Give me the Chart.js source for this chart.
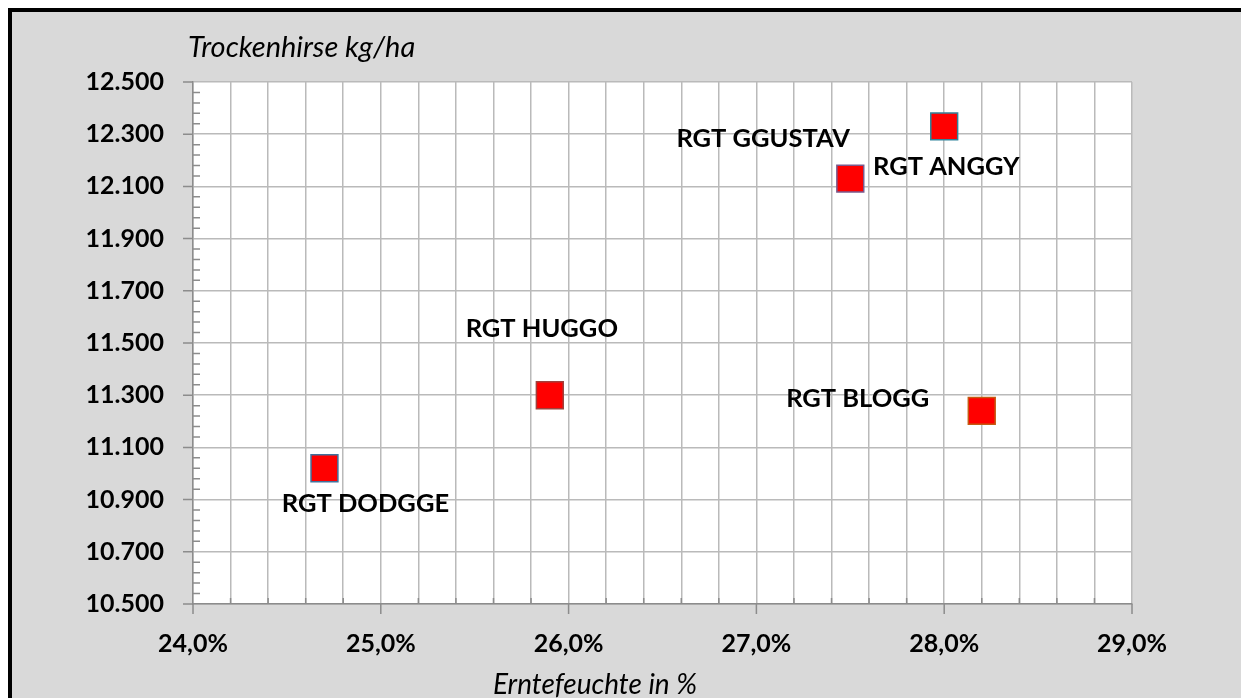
<!DOCTYPE html>
<html>
<head>
<meta charset="utf-8">
<script src="https://cdn.jsdelivr.net/npm/chart.js@4.4.1/dist/chart.umd.min.js"></script>
<style>
html, body { margin: 0; background: #fff; overflow: hidden; }
#frame {
  position: absolute; left: 8px; top: 8px;
  width: 1300px; height: 720px;
  border-left: 4px solid #000; border-top: 4px solid #000;
  background: #d9d9d9;
}
#box { position: relative; width: 1229px; height: 686px; }
</style>
</head>
<body>
<div id="frame"><div id="box"><canvas id="myChart"></canvas></div></div>
<script>
// data
var varieties = ["RGT DODGGE", "RGT HUGGO", "RGT ANGGY", "RGT GGUSTAV", "RGT BLOGG"];
var moisture = [24.7, 25.9, 27.5, 28.0, 28.2];       // Erntefeuchte in %
var yieldKg = [11020, 11300, 12130, 12330, 11240];   // Trockenhirse kg/ha
var xTickLabels = ["24,0%", "25,0%", "26,0%", "27,0%", "28,0%", "29,0%"];
var yTickLabels = ["10.500", "10.700", "10.900", "11.100", "11.300", "11.500",
                   "11.700", "11.900", "12.100", "12.300", "12.500"];

// styling
var markerBorders = ["#41719c", "#a0403c", "#7a5a8c", "#31849b", "#c55a11"];
var labelOffsets = [[41, 36], [-8, -66], [96, -12], [-181, 12], [-124, -12]];
var FONT = "Lato, 'Open Sans', sans-serif";

var points = [];
for (var i = 0; i < moisture.length; i++) {
  points.push({ x: moisture[i], y: yieldKg[i] });
}

var decor = {
  id: 'decor',
  beforeDraw: function(chart) {
    var a = chart.chartArea, ctx = chart.ctx;
    ctx.save();
    ctx.fillStyle = "#ffffff";
    ctx.fillRect(a.left, a.top, a.right - a.left, a.bottom - a.top);
    ctx.restore();
  },
  beforeDatasetsDraw: function(chart) {
    var a = chart.chartArea, ctx = chart.ctx;
    var xs = chart.scales.x, ys = chart.scales.y;
    ctx.save();
    ctx.strokeStyle = "#8c8c8c";
    ctx.lineWidth = 1.5;
    ctx.beginPath();
    // x axis: major outward ticks every 1 %, minor inward every 0.2 %
    for (var v = 0; v <= 25; v++) {
      var px = xs.getPixelForValue(24 + v * 0.2);
      if (v % 5 === 0) {
        ctx.moveTo(px, a.bottom); ctx.lineTo(px, a.bottom + 10);
      } else {
        ctx.moveTo(px, a.bottom); ctx.lineTo(px, a.bottom - 6);
      }
    }
    // y axis: major outward every 200, minor inward every 40
    for (var k = 0; k <= 50; k++) {
      var py = ys.getPixelForValue(10500 + k * 40);
      if (k % 5 === 0) {
        ctx.moveTo(a.left - 10, py); ctx.lineTo(a.left, py);
      } else {
        ctx.moveTo(a.left, py); ctx.lineTo(a.left + 7, py);
      }
    }
    ctx.stroke();
    ctx.restore();
  },
  afterDatasetsDraw: function(chart) {
    var ctx = chart.ctx, a = chart.chartArea;
    var meta = chart.getDatasetMeta(0);
    ctx.save();
    ctx.fillStyle = "#000";
    ctx.textAlign = "center";
    ctx.textBaseline = "middle";
    ctx.font = "bold 25.5px " + FONT;
    for (var i = 0; i < meta.data.length; i++) {
      var el = meta.data[i];
      ctx.fillText(varieties[i], el.x + labelOffsets[i][0], el.y + labelOffsets[i][1]);
    }
    // axis titles
    ctx.textAlign = "left";
    ctx.font = "italic 29px " + FONT;
    ctx.fillText("Trockenhirse kg/ha", a.left - 5, a.top - 34);
    ctx.textAlign = "center";
    ctx.font = "italic 28px " + FONT;
    ctx.fillText("Erntefeuchte in %", a.left + 402, a.bottom + 81);
    ctx.restore();
  }
};

var ctx = document.getElementById("myChart");
var myChart = new Chart(ctx, {
  type: 'scatter',
  data: {
    datasets: [{
      label: 'Sorten',
      data: points,
      pointStyle: 'rect',
      pointRadius: 19,
      pointHoverRadius: 19,
      backgroundColor: "#ff0000",
      pointBorderColor: markerBorders,
      borderWidth: 1.5
    }]
  },
  options: {
    responsive: true,
    maintainAspectRatio: false,
    animation: false,
    devicePixelRatio: 1,
    layout: { padding: { top: 70, right: 109, left: 0, bottom: 0 } },
    plugins: {
      legend: { display: false },
      tooltip: { enabled: false }
    },
    scales: {
      x: {
        type: 'linear',
        min: 24, max: 29,
        afterFit: function(scale) { scale.height = 94; },
        ticks: {
          stepSize: 0.2,
          autoSkip: false,
          maxRotation: 0,
          padding: 25,
          color: "#000",
          font: { family: FONT, size: 25, weight: 'bold' },
          callback: function(value, index) {
            return index % 5 === 0 ? xTickLabels[index / 5] : '';
          }
        },
        grid: { color: "#bababa", lineWidth: 1.5, drawTicks: false },
        border: { color: "#8c8c8c", width: 1.5 }
      },
      y: {
        min: 10500, max: 12500,
        afterFit: function(scale) { scale.width = 181; },
        ticks: {
          stepSize: 200,
          padding: 29,
          color: "#000",
          font: { family: FONT, size: 25, weight: 'bold' },
          callback: function(value, index) { return yTickLabels[index]; }
        },
        grid: { color: "#bababa", lineWidth: 1.5, drawTicks: false },
        border: { color: "#8c8c8c", width: 1.5 }
      }
    }
  },
  plugins: [decor]
});
</script>
</body>
</html>
